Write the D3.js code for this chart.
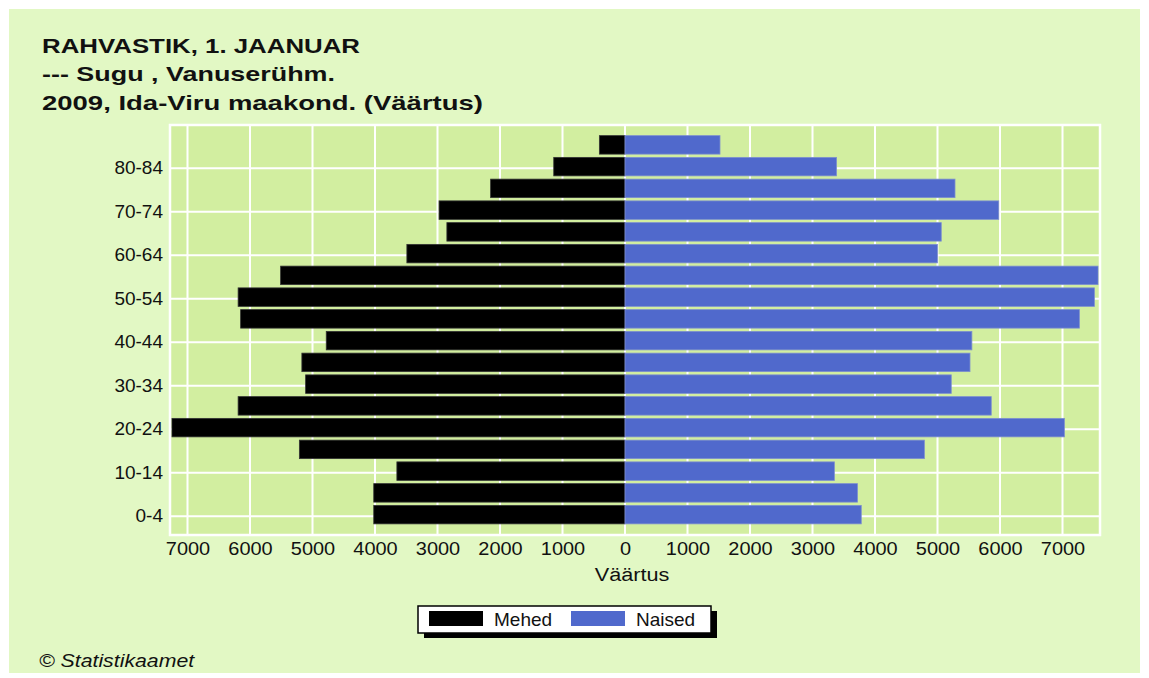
<!DOCTYPE html>
<html>
<head>
<meta charset="utf-8">
<script src="https://cdn.jsdelivr.net/npm/d3@7"></script>
<style>
  body { margin: 0; background: #fff; }
  text { font-family: "Liberation Sans", Arial, sans-serif; fill: #111; }
</style>
</head>
<body>
<svg id="chart" width="1149" height="678"></svg>
<script>
// age groups bottom -> top
var ageGroups = ["0-4","5-9","10-14","15-19","20-24","25-29","30-34","35-39","40-44",
                 "45-49","50-54","55-59","60-64","65-69","70-74","75-79","80-84","85+"];
var mehed  = [4020, 4020, 3650, 5210, 7250, 6190, 5110, 5170, 4780,
              6150, 6190, 5510, 3490, 2850, 2975, 2150, 1140, 410];
var naised = [3780, 3720, 3350, 4790, 7030, 5860, 5220, 5520, 5550,
              7270, 7510, 7570, 5000, 5060, 5980, 5280, 3385, 1520];
var xTicks = [-7000,-6000,-5000,-4000,-3000,-2000,-1000,0,1000,2000,3000,4000,5000,6000,7000];
var yLabels = ["0-4","10-14","20-24","30-34","40-44","50-54","60-64","70-74","80-84"];
var titleLines = ["RAHVASTIK, 1. JAANUAR", "--- Sugu , Vanuserühm.", "2009, Ida-Viru maakond. (Väärtus)"];

var panelColor = "#e2f8c4",
    plotColor = "#d2eea0",
    maleColor = "#000000",
    femaleColor = "#5069cc";

var plot = {left: 170, top: 125, right: 1100, bottom: 535};
// rendered widths of the title lines (the original is drawn a bit wide)
var titleWidths = [318, 293, 441];

var svg = d3.select("#chart");

// outer panel
svg.append("rect")
    .attr("x", 9).attr("y", 9)
    .attr("width", 1131).attr("height", 664)
    .attr("fill", panelColor);

// title
svg.append("g").selectAll("text")
    .data(titleLines)
    .enter().append("text")
    .attr("x", 42)
    .attr("y", function(d, i) { return 53 + i * 28.3; })
    .attr("textLength", function(d, i) { return titleWidths[i]; })
    .attr("lengthAdjust", "spacingAndGlyphs")
    .style("font-weight", "bold")
    .style("font-size", "21px")
    .text(function(d) { return d; });

var x = d3.scaleLinear()
    .domain([-7280, 7600])
    .range([plot.left, plot.right]);

var y = d3.scaleBand()
    .domain(ageGroups.slice().reverse())
    .range([plot.top + 9, plot.bottom - 9.5])
    .paddingInner(0.15)
    .paddingOuter(0.075);

// plot background
svg.append("rect")
    .attr("x", plot.left).attr("y", plot.top)
    .attr("width", plot.right - plot.left).attr("height", plot.bottom - plot.top)
    .attr("fill", plotColor);

// grid
var grid = svg.append("g").attr("class", "grid");
grid.selectAll("line.v")
    .data(xTicks)
    .enter().append("line")
    .attr("class", "v")
    .attr("x1", function(d) { return x(d); }).attr("x2", function(d) { return x(d); })
    .attr("y1", plot.top).attr("y2", plot.bottom)
    .attr("stroke", "#fff").attr("stroke-width", 2);
grid.selectAll("line.h")
    .data(yLabels)
    .enter().append("line")
    .attr("class", "h")
    .attr("x1", plot.left).attr("x2", plot.right)
    .attr("y1", function(d) { return y(d) + y.bandwidth() / 2 + 1.5; })
    .attr("y2", function(d) { return y(d) + y.bandwidth() / 2 + 1.5; })
    .attr("stroke", "#fff").attr("stroke-width", 2);

// bars
var bars = svg.append("g").attr("class", "bars");
bars.selectAll("rect.m")
    .data(mehed)
    .enter().append("rect")
    .attr("class", "m")
    .attr("x", function(d) { return x(-d); })
    .attr("y", function(d, i) { return y(ageGroups[i]); })
    .attr("width", function(d) { return x(0) - x(-d); })
    .attr("height", y.bandwidth())
    .attr("fill", maleColor)
    .attr("stroke", "#333").attr("stroke-width", 0.8);
bars.selectAll("rect.f")
    .data(naised)
    .enter().append("rect")
    .attr("class", "f")
    .attr("x", x(0))
    .attr("y", function(d, i) { return y(ageGroups[i]); })
    .attr("width", function(d) { return x(d) - x(0); })
    .attr("height", y.bandwidth())
    .attr("fill", femaleColor)
    .attr("stroke", "#7d8fcf").attr("stroke-width", 0.8);

// frame
svg.append("rect")
    .attr("x", plot.left).attr("y", plot.top)
    .attr("width", plot.right - plot.left).attr("height", plot.bottom - plot.top)
    .attr("fill", "none")
    .attr("stroke", "#fff").attr("stroke-width", 2.5);

// axes
var xAxis = svg.append("g")
    .attr("transform", "translate(0," + plot.bottom + ")")
    .call(d3.axisBottom(x).tickValues(xTicks).tickSize(0).tickPadding(7)
        .tickFormat(function(d) { return Math.abs(d); }));
xAxis.select(".domain").remove();
xAxis.selectAll("text")
    .attr("transform", "scale(1.05,1)")
    .style("font-size", "19px")
    .attr("fill", "#111");

var yAxis = svg.append("g")
    .attr("transform", "translate(" + plot.left + ",1.5)")
    .call(d3.axisLeft(y).tickValues(yLabels).tickSize(0).tickPadding(7));
yAxis.select(".domain").remove();
yAxis.selectAll("text")
    .style("font-size", "19px")
    .attr("fill", "#111");

svg.append("text")
    .attr("transform", "translate(" + ((plot.left + plot.right) / 2 - 3) + ",581)scale(1.14,1)")
    .attr("text-anchor", "middle")
    .style("font-size", "19px")
    .text("Väärtus");

// legend
var legend = svg.append("g").attr("transform", "translate(418,606)");
legend.append("rect")
    .attr("x", 6).attr("y", 5).attr("width", 293).attr("height", 27)
    .attr("fill", "#000");
legend.append("rect")
    .attr("x", 0).attr("y", 0).attr("width", 293).attr("height", 27)
    .attr("fill", "#fff").attr("stroke", "#000").attr("stroke-width", 1.5);
var legendItems = [{label: "Mehed", color: maleColor, x: 11}, {label: "Naised", color: femaleColor, x: 153}];
legendItems.forEach(function(d) {
    legend.append("rect")
        .attr("x", d.x).attr("y", 5).attr("width", 54).attr("height", 15)
        .attr("fill", d.color);
    legend.append("text")
        .attr("x", d.x + 65).attr("y", 20)
        .style("font-size", "19px")
        .text(d.label);
});

// footer
svg.append("text")
    .attr("transform", "translate(39,667)scale(1.12,1)")
    .style("font-size", "19px")
    .style("font-style", "italic")
    .text("© Statistikaamet");
</script>
</body>
</html>
